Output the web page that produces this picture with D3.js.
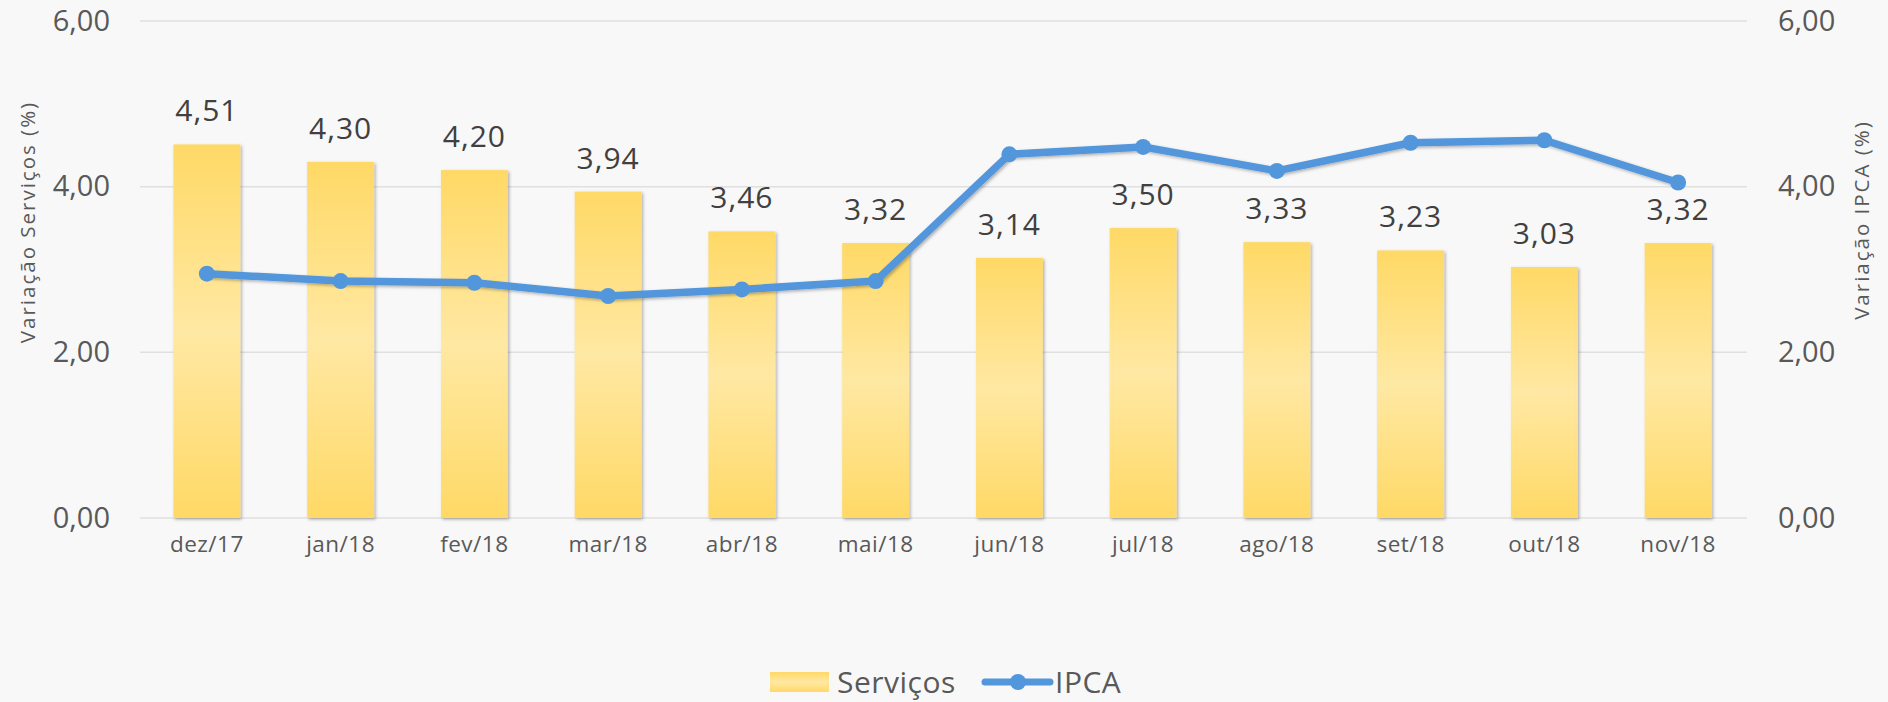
<!DOCTYPE html>
<html>
<head>
<meta charset="utf-8">
<script src="https://cdn.jsdelivr.net/npm/d3@7"></script>
<style>
  body { margin: 0; background: #f8f8f8; }
  svg { display: block; font-family: "Open Sans", sans-serif; }
</style>
</head>
<body>
<div class="chart"></div>
<script>
var categories = ['dez/17', 'jan/18', 'fev/18', 'mar/18', 'abr/18', 'mai/18', 'jun/18', 'jul/18', 'ago/18', 'set/18', 'out/18', 'nov/18'];
var servicos = [4.51, 4.30, 4.20, 3.94, 3.46, 3.32, 3.14, 3.50, 3.33, 3.23, 3.03, 3.32];
var ipca = [2.95, 2.86, 2.84, 2.68, 2.76, 2.86, 4.39, 4.48, 4.19, 4.53, 4.56, 4.05];
var ticks = [0, 2, 4, 6];

var W = 1888, H = 702;
var margin = { top: 21, right: 143, bottom: 184, left: 140 };
var width = W - margin.left - margin.right;
var height = H - margin.top - margin.bottom;

var fmt = function(v) { return d3.format('.2f')(v).replace('.', ','); };

var x = d3.scaleBand().domain(categories).range([0, width]).paddingInner(0.5).paddingOuter(0.25);
var y = d3.scaleLinear().domain([0, 6]).range([height, 0]);
var y2 = d3.scaleLinear().domain([0, 6]).range([height, 0]);

var svg = d3.select('.chart').append('svg')
    .attr('width', W)
    .attr('height', H);

var defs = svg.append('defs');
var grad = defs.append('linearGradient')
    .attr('id', 'barGrad')
    .attr('x1', 0).attr('y1', 0).attr('x2', 0).attr('y2', 1);
grad.append('stop').attr('offset', '0%').attr('stop-color', '#ffd966');
grad.append('stop').attr('offset', '50%').attr('stop-color', '#ffe8a3');
grad.append('stop').attr('offset', '100%').attr('stop-color', '#ffd966');

var shadow = defs.append('filter').attr('id', 'shadow')
    .attr('x', '-20%').attr('y', '-20%').attr('width', '140%').attr('height', '140%');
shadow.append('feDropShadow')
    .attr('dx', 1.5).attr('dy', 1.5).attr('stdDeviation', 1.5)
    .attr('flood-color', '#000').attr('flood-opacity', 0.3);

var g = svg.append('g')
    .attr('transform', 'translate(' + margin.left + ',' + margin.top + ')');

// gridlines
g.append('g')
    .selectAll('line')
    .data(ticks)
    .enter().append('line')
    .attr('x1', 0)
    .attr('x2', width + 2)
    .attr('y1', function(d) { return y(d); })
    .attr('y2', function(d) { return y(d); })
    .attr('stroke', '#e0e0e0')
    .attr('stroke-width', 1.5);

// left axis
var yAxis = d3.axisLeft(y).tickValues(ticks).tickFormat(fmt).tickSize(0).tickPadding(30);
g.append('g')
    .call(yAxis)
    .call(function(s) { s.select('.domain').remove(); })
    .selectAll('text')
    .attr('font-size', 29)
    .attr('fill', '#595959')
    .attr('font-family', '"Open Sans", sans-serif');

// right axis
var yAxis2 = d3.axisRight(y2).tickValues(ticks).tickFormat(fmt).tickSize(0).tickPadding(33);
g.append('g')
    .attr('transform', 'translate(' + width + ',0)')
    .call(yAxis2)
    .call(function(s) { s.select('.domain').remove(); })
    .selectAll('text')
    .attr('font-size', 29)
    .attr('fill', '#595959')
    .attr('font-family', '"Open Sans", sans-serif');

// x axis
var xAxis = d3.axisBottom(x).tickSize(0).tickPadding(18);
g.append('g')
    .attr('transform', 'translate(0,' + height + ')')
    .call(xAxis)
    .call(function(s) { s.select('.domain').remove(); })
    .selectAll('text')
    .attr('font-size', 22.5)
    .attr('letter-spacing', 0.5)
    .attr('fill', '#595959')
    .attr('font-family', '"Open Sans", sans-serif');

// bars
g.append('g')
    .selectAll('rect')
    .data(servicos)
    .enter().append('rect')
    .attr('x', function(d, i) { return x(categories[i]); })
    .attr('y', function(d) { return y(d); })
    .attr('width', x.bandwidth())
    .attr('height', function(d) { return height - y(d); })
    .attr('fill', 'url(#barGrad)')
    .attr('filter', 'url(#shadow)');

// bar labels
g.append('g')
    .selectAll('text')
    .data(servicos)
    .enter().append('text')
    .attr('x', function(d, i) { return x(categories[i]) + x.bandwidth() / 2; })
    .attr('y', function(d) { return y(d) - 23; })
    .attr('text-anchor', 'middle')
    .attr('font-size', 30)
    .attr('letter-spacing', 1)
    .attr('fill', '#404040')
    .text(fmt);

// IPCA line
var line = d3.line()
    .x(function(d, i) { return x(categories[i]) + x.bandwidth() / 2; })
    .y(function(d) { return y2(d); });

g.append('path')
    .datum(ipca)
    .attr('d', line)
    .attr('fill', 'none')
    .attr('stroke', '#5296dc')
    .attr('stroke-width', 7.5)
    .attr('stroke-linejoin', 'round')
    .attr('filter', 'url(#shadow)');

g.append('g')
    .selectAll('circle')
    .data(ipca)
    .enter().append('circle')
    .attr('cx', function(d, i) { return x(categories[i]) + x.bandwidth() / 2; })
    .attr('cy', function(d) { return y2(d); })
    .attr('r', 8)
    .attr('fill', '#5296dc');

// axis titles
svg.append('text')
    .attr('transform', 'translate(28,222) rotate(-90)')
    .attr('text-anchor', 'middle')
    .attr('dy', '0.35em')
    .attr('font-size', 20.5)
    .attr('letter-spacing', 2)
    .attr('fill', '#595959')
    .text('Variação Serviços (%)');

svg.append('text')
    .attr('transform', 'translate(1862,220) rotate(-90)')
    .attr('text-anchor', 'middle')
    .attr('dy', '0.35em')
    .attr('font-size', 20.5)
    .attr('letter-spacing', 2)
    .attr('fill', '#595959')
    .text('Variação IPCA (%)');

// legend
var legend = svg.append('g').attr('transform', 'translate(770,682)');
legend.append('rect')
    .attr('x', 0).attr('y', -10)
    .attr('width', 59).attr('height', 20)
    .attr('fill', 'url(#barGrad)');
legend.append('text')
    .attr('x', 67).attr('y', 0)
    .attr('dy', '0.35em')
    .attr('font-size', 30)
    .attr('letter-spacing', 0.5)
    .attr('fill', '#595959')
    .text('Serviços');
legend.append('line')
    .attr('x1', 215).attr('x2', 280)
    .attr('y1', 0).attr('y2', 0)
    .attr('stroke', '#5296dc')
    .attr('stroke-width', 7)
    .attr('stroke-linecap', 'round');
legend.append('circle')
    .attr('cx', 248).attr('cy', 0).attr('r', 8)
    .attr('fill', '#5296dc');
legend.append('text')
    .attr('x', 285).attr('y', 0)
    .attr('dy', '0.35em')
    .attr('font-size', 30)
    .attr('letter-spacing', 0.5)
    .attr('fill', '#595959')
    .text('IPCA');
</script>
</body>
</html>
